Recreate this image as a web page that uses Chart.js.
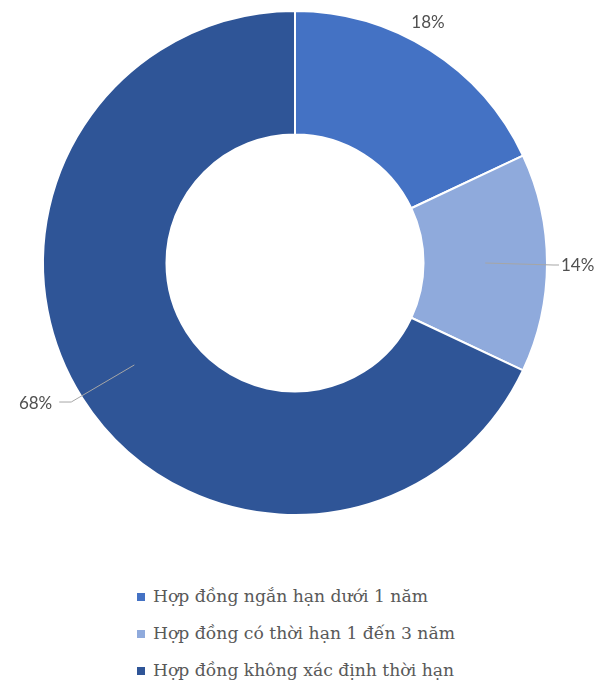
<!DOCTYPE html>
<html>
<head>
<meta charset="utf-8">
<script src="https://cdn.jsdelivr.net/npm/chart.js@4.4.1/dist/chart.umd.min.js"></script>
<style>
  html, body { margin: 0; padding: 0; background: #fff; }
  #wrap { position: relative; width: 595px; height: 530px; }
  #legend { list-style: none; margin: 0; padding: 0; position: absolute; left: 137px; top: 585px; }
  #legend li {
    font-family: "DejaVu Serif", serif; font-size: 17.2px; color: #595959;
    height: 37px; line-height: 22px; display: flex; align-items: flex-start;
  }
  #legend li span.box { width: 8px; height: 8px; margin: 8px 8px 0 0; display: inline-block; }
</style>
</head>
<body>
<div id="wrap"><canvas id="chart"></canvas></div>
<ul id="legend"></ul>
<script>
const labels = [
  "Hợp đồng ngắn hạn dưới 1 năm",
  "Hợp đồng có thời hạn 1 đến 3 năm",
  "Hợp đồng không xác định thời hạn"
];
const shares = [18, 14, 68];
const colors = ["#4472C4", "#8FAADC", "#2F5597"];

// label placement per slice: offset from the outer edge at mid-angle, optional leader line
const labelSpots = [
  { dx: -2, dy: -29, leader: false, align: "center" },
  { dx: 6, dy: 2, leader: true, align: "left" },
  { dx: -11, dy: 4, leader: true, align: "right" }
];

const sliceLabels = {
  id: "sliceLabels",
  afterDatasetsDraw(chart) {
    const ctx = chart.ctx;
    const meta = chart.getDatasetMeta(0);
    ctx.save();
    ctx.font = "17px Lato";
    ctx.fillStyle = "#505050";
    ctx.textBaseline = "middle";
    meta.data.forEach((arc, i) => {
      const p = arc.getProps(["x", "y", "startAngle", "endAngle", "innerRadius", "outerRadius"], true);
      const mid = (p.startAngle + p.endAngle) / 2;
      const rMid = (p.innerRadius + p.outerRadius) / 2;
      const ox = p.x + Math.cos(mid) * p.outerRadius;
      const oy = p.y + Math.sin(mid) * p.outerRadius;
      const s = labelSpots[i];
      const tx = ox + s.dx, ty = oy + s.dy;
      let textX = tx;
      if (s.leader) {
        const sx = p.x + Math.cos(mid) * rMid;
        const sy = p.y + Math.sin(mid) * rMid;
        const tail = s.align === "left" ? 6 : -12;
        ctx.strokeStyle = "#A6A6A6";
        ctx.lineWidth = 1;
        ctx.beginPath();
        ctx.moveTo(sx, sy);
        ctx.lineTo(tx, ty);
        ctx.lineTo(tx + tail, ty);
        ctx.stroke();
        textX = tx + tail + (s.align === "left" ? 2 : -7);
      }
      ctx.textAlign = s.align;
      ctx.fillText(shares[i] + "%", textX, ty + 1);
    });
    ctx.restore();
  }
};

new Chart(document.getElementById("chart"), {
  type: "doughnut",
  data: {
    labels: labels,
    datasets: [{
      data: shares,
      backgroundColor: colors,
      borderColor: "#ffffff",
      borderWidth: 2,
      hoverBorderWidth: 2
    }]
  },
  options: {
    responsive: true,
    maintainAspectRatio: false,
    animation: false,
    cutout: "51%",
    layout: { padding: { left: 42, right: 47, top: 10, bottom: 14 } },
    plugins: {
      legend: { display: false },
      tooltip: { enabled: false }
    }
  },
  plugins: [sliceLabels]
});

const legendEl = document.getElementById("legend");
labels.forEach((text, i) => {
  const li = document.createElement("li");
  const box = document.createElement("span");
  box.className = "box";
  box.style.background = colors[i];
  li.appendChild(box);
  li.appendChild(document.createTextNode(text));
  legendEl.appendChild(li);
});
</script>
</body>
</html>
